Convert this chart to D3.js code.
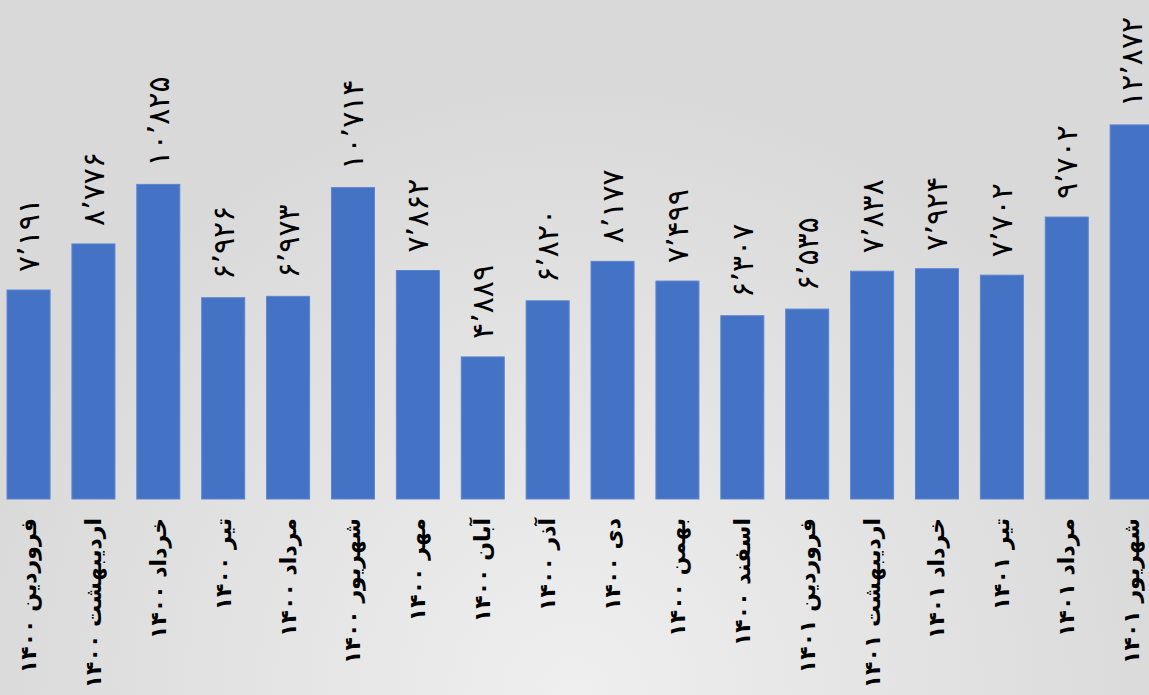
<!DOCTYPE html>
<html lang="fa">
<head>
<meta charset="UTF-8">
<title>Monthly bars</title>
<script src="https://cdn.jsdelivr.net/npm/d3@7"></script>
<style>
  html, body { margin: 0; padding: 0; overflow: hidden; }
  svg { display: block; }
</style>
</head>
<body>
<div id="container"></div>
<script>
// months (persian calendar) and values
let months = ["فروردین ۱۴۰۰", "اردیبهشت ۱۴۰۰", "خرداد ۱۴۰۰", "تیر ۱۴۰۰", "مرداد ۱۴۰۰", "شهریور ۱۴۰۰",
              "مهر ۱۴۰۰", "آبان ۱۴۰۰", "آذر ۱۴۰۰", "دی ۱۴۰۰", "بهمن ۱۴۰۰", "اسفند ۱۴۰۰",
              "فروردین ۱۴۰۱", "اردیبهشت ۱۴۰۱", "خرداد ۱۴۰۱", "تیر ۱۴۰۱", "مرداد ۱۴۰۱", "شهریور ۱۴۰۱"];
let values = [7191, 8776, 10825, 6926, 6973, 10714, 7862, 4889, 6820, 8177, 7499, 6307,
              6535, 7838, 7924, 7702, 9702, 12872];

let W = 1149, H = 695;
let baseY = 499;

let svg = d3.select('#container')
    .append('svg')
    .attr('width', W)
    .attr('height', H);

let defs = svg.append('defs');
let grad = defs.append('radialGradient')
    .attr('id', 'bg')
    .attr('gradientUnits', 'userSpaceOnUse')
    .attr('cx', W / 2).attr('cy', H)
    .attr('r', 620);
grad.append('stop').attr('offset', '0%').attr('stop-color', '#efefef');
grad.append('stop').attr('offset', '100%').attr('stop-color', '#d9d9d9');

svg.append('rect')
    .attr('width', W).attr('height', H)
    .attr('fill', 'url(#bg)');

let x = d3.scaleBand()
    .domain(months)
    .range([-4, -4 + 18 * 64.9])
    .paddingInner(0.337)
    .paddingOuter(0.17);

let y = d3.scaleLinear()
    .domain([0, 17170])
    .range([baseY, 0]);

// persian digits + arabic thousands separator
let fmt = d3.format(",");
function fa(n) {
    return fmt(n).replace(/\d/g, c => "۰۱۲۳۴۵۶۷۸۹"[+c]).replace(/,/g, "٬");
}

svg.selectAll('rect.bar')
    .data(values)
    .enter().append('rect')
    .attr('class', 'bar')
    .attr('x', (d, i) => x(months[i]))
    .attr('y', d => y(d))
    .attr('width', x.bandwidth())
    .attr('height', d => baseY - y(d))
    .attr('fill', '#4472c4')
    .attr('stroke', '#5b86d0')
    .attr('stroke-width', 1);

// value labels, rotated
svg.selectAll('text.val')
    .data(values)
    .enter().append('text')
    .attr('class', 'val')
    .attr('transform', (d, i) => 'translate(' + (x(months[i]) + x.bandwidth() / 2) + ',' + (y(d) - 18) + ') rotate(-90)')
    .attr('text-anchor', 'start')
    .attr('dominant-baseline', 'central')
    .style('font-family', '"DejaVu Sans", sans-serif')
    .style('font-size', '30px')
    .style('letter-spacing', '2.5px')
    .attr('fill', '#000')
    .text(d => fa(d));

// category labels
svg.selectAll('text.cat')
    .data(months)
    .enter().append('text')
    .attr('class', 'cat')
    .attr('transform', d => 'translate(' + (x(d) + x.bandwidth() / 2) + ',' + 518 + ') rotate(-90)')
    .attr('text-anchor', 'end')
    .attr('dominant-baseline', 'central')
    .style('font-family', '"DejaVu Sans", sans-serif')
    .style('font-size', '22px')
    .style('font-weight', 'bold')
    .attr('fill', '#000')
    .text(d => d);
</script>
</body>
</html>
